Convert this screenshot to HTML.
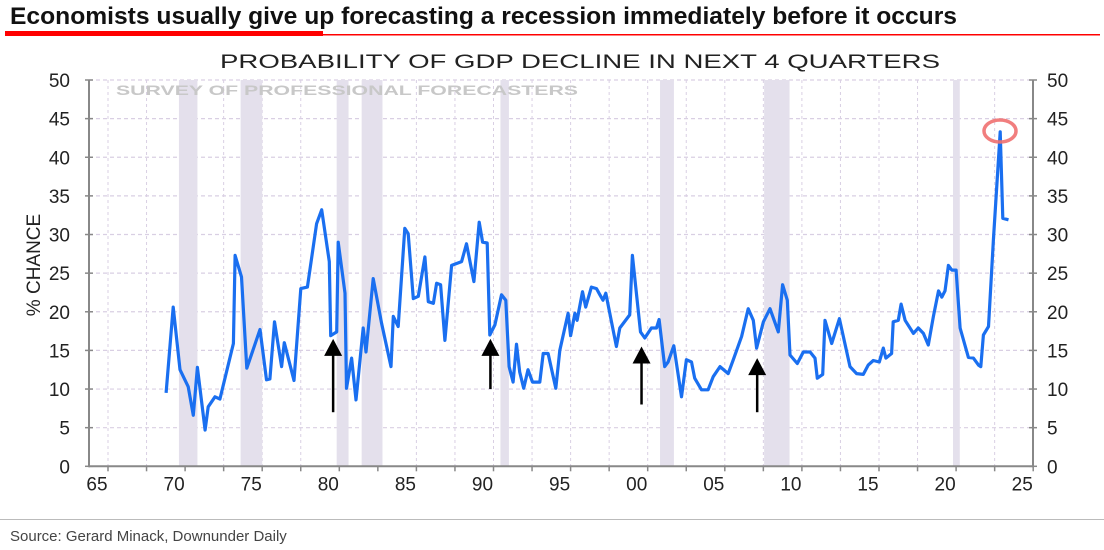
<!DOCTYPE html>
<html><head><meta charset="utf-8"><style>
html,body{margin:0;padding:0;background:#fff;}
svg{display:block;font-family:"Liberation Sans",sans-serif;}
</style></head><body>
<svg id="chart" width="1104" height="550" viewBox="0 0 1104 550">
<text x="10" y="24" font-size="24" font-weight="bold" fill="#111" textLength="947" lengthAdjust="spacingAndGlyphs">Economists usually give up forecasting a recession immediately before it occurs</text>
<rect x="5" y="31" width="318" height="5" fill="#f00"/>
<rect x="323" y="34" width="777" height="1.5" fill="#f00"/>
<text x="580" y="68" font-size="19" fill="#222" text-anchor="middle" textLength="720" lengthAdjust="spacingAndGlyphs">PROBABILITY OF GDP DECLINE IN NEXT 4 QUARTERS</text>
<g id="grid"></g>
<g id="bands"></g>
<text x="116" y="95" font-size="14" font-weight="bold" fill="#c8c8c8" textLength="462" lengthAdjust="spacingAndGlyphs">SURVEY OF PROFESSIONAL FORECASTERS</text>
<g id="axes"></g>
<path id="series" fill="none" stroke="#1a6ff0" stroke-width="3.2" stroke-linejoin="round"/>
<ellipse cx="1000" cy="131" rx="16" ry="11" fill="none" stroke="#f07070" stroke-width="3.5" opacity="0.9"/>
<g id="arrows"></g>
<text transform="translate(40,265) rotate(-90)" font-size="19" fill="#222" text-anchor="middle">% CHANCE</text>
<rect x="0" y="519" width="1104" height="1" fill="#bbb"/>
<text x="10" y="541" font-size="15" fill="#444">Source: Gerard Minack, Downunder Daily</text>
</svg>
<script>
const years=[1968.77,1969.23,1969.67,1970.2,1970.53,1970.8,1971.3,1971.5,1971.94,1972.26,1973.13,1973.24,1973.66,1974,1974.86,1975.28,1975.5,1975.8,1976.26,1976.43,1977.06,1977.5,1977.93,1978.53,1978.86,1979.35,1979.44,1979.83,1979.93,1980.37,1980.47,1980.8,1981.08,1981.55,1981.73,1982.2,1982.74,1983.35,1983.5,1983.82,1984.25,1984.47,1984.8,1985.12,1985.55,1985.77,1986.1,1986.31,1986.57,1986.85,1987.28,1987.93,1988.25,1988.73,1989.07,1989.29,1989.59,1989.76,1990.09,1990.52,1990.8,1991.01,1991.27,1991.49,1991.7,1991.96,1992.24,1992.53,1993,1993.22,1993.54,1994.04,1994.3,1994.84,1995,1995.28,1995.42,1995.77,1995.98,1996.35,1996.68,1996.9,1997.1,1997.28,1997.97,1998.19,1998.83,1999.01,1999.53,1999.81,2000.24,2000.57,2000.74,2001.1,2001.32,2001.69,2002.19,2002.51,2002.84,2003.05,2003.49,2003.92,2004.25,2004.69,2005.22,2005.55,2006.09,2006.52,2006.85,2007.06,2007.5,2007.93,2008.47,2008.75,2009.05,2009.23,2009.7,2010.09,2010.53,2010.85,2011,2011.35,2011.5,2011.93,2012.43,2013.12,2013.55,2013.98,2014.3,2014.63,2015.02,2015.28,2015.45,2015.82,2015.92,2016.25,2016.43,2016.69,2017.23,2017.55,2017.88,2018.2,2018.53,2018.86,2019.07,2019.28,2019.5,2019.72,2020,2020.26,2020.8,2021.12,2021.45,2021.6,2021.77,2022.1,2022.42,2022.86,2023.03,2023.4];
const probs=[9.5,20.6,12.5,10.3,6.6,12.8,4.7,7.7,9,8.7,15.9,27.3,24.5,12.7,17.7,11.2,11.3,18.7,12.9,16,11.1,23,23.2,31.4,33.2,26.5,16.9,17.4,29,22.4,10.1,14,8.6,17.9,14.8,24.3,18.5,12.9,19.4,18.1,30.8,30.1,21.7,22,27.1,21.3,21.1,23.7,23.5,16.3,26,26.5,28.8,23.9,31.6,29,28.9,17,18.3,22.2,21.5,12.9,10.9,15.8,12.2,10.1,12.5,10.9,10.9,14.6,14.6,10.1,15,19.8,16.9,19.8,18.9,22.6,20.6,23.2,23,22.2,21.5,22.4,15.5,17.9,19.6,27.3,17.4,16.6,17.9,17.9,19,12.9,13.5,15.6,9,13.8,13.5,11.4,9.9,9.9,11.6,12.9,12,13.8,16.8,20.4,18.9,15.3,18.7,20.4,17.4,23.5,21.5,14.4,13.3,14.8,14.8,14,11.4,11.9,18.9,15.9,19.1,12.9,12,11.9,13.1,13.7,13.5,15.3,14,14.6,18.7,18.9,21,18.9,17.2,17.9,17.2,15.7,19.4,22.7,21.9,22.7,26,25.4,25.4,17.9,14.1,14,13.1,12.9,17,18.1,29.3,43.3,32.1,31.9];
const recStart=[1969.6,1973.6,1979.83,1981.45,1990.45,2000.8,2007.55,2019.8];
const recEnd=[1970.8,1975.0,1980.6,1982.8,1991.0,2001.7,2009.2,2020.24];
const arrowYears=[1979.6,1989.8,1999.6,2007.1];
const arrowTailVals=[7,10,8,7];
const arrowHeadVals=[16.5,16.5,15.5,14];
const yTicks=[0,5,10,15,20,25,30,35,40,45,50];
const xTicks=[1965,1970,1975,1980,1985,1990,1995,2000,2005,2010,2015,2020,2025];
const xTickLabels=["65","70","75","80","85","90","95","00","05","10","15","20","25"];

const NS="http://www.w3.org/2000/svg";
const X=y=>108+(y-1965)*15.42;
const Y=v=>466.3-v*7.726;
const L=89,R=1033,T=Y(50),B=Y(0);
function mk(tag,attrs,parent){const e=document.createElementNS(NS,tag);for(const k in attrs)e.setAttribute(k,attrs[k]);parent.appendChild(e);return e;}
const grid=document.getElementById('grid'),bands=document.getElementById('bands'),axes=document.getElementById('axes'),arrows=document.getElementById('arrows');
for(let yr=1965;yr<=2025;yr+=2.5){const g=mk('line',{x1:X(yr),x2:X(yr),y1:T,y2:B,stroke:'#d9cfe3','stroke-width':1,'stroke-dasharray':'3,3'},grid);

}
yTicks.forEach(v=>{const g=mk('line',{x1:L,x2:R,y1:Y(v),y2:Y(v),stroke:'#d9cfe3','stroke-width':1.2,'stroke-dasharray':'4,3'},grid);

});
recStart.forEach((s,i)=>{const r=mk('rect',{x:X(s),y:T,width:X(recEnd[i])-X(s),height:B-T,fill:'#e4e0ec'},bands);

});
mk('line',{x1:L,x2:L,y1:T,y2:B+1,stroke:'#888','stroke-width':2},axes);
mk('line',{x1:R,x2:R,y1:T,y2:B+1,stroke:'#888','stroke-width':2},axes);
mk('line',{x1:L,x2:R,y1:B,y2:B,stroke:'#888','stroke-width':2},axes);
yTicks.forEach(v=>{
mk('line',{x1:L-4,x2:L+4,y1:Y(v),y2:Y(v),stroke:'#888','stroke-width':1.5},axes);
mk('line',{x1:R-4,x2:R+4,y1:Y(v),y2:Y(v),stroke:'#888','stroke-width':1.5},axes);
const t=mk('text',{x:70,y:Y(v)+7,'font-size':19,fill:'#222','text-anchor':'end'},axes);t.textContent=v;


const t2=mk('text',{x:1047,y:Y(v)+7,'font-size':19,fill:'#222'},axes);t2.textContent=v;

});
for(let yr=1965;yr<=2025;yr+=2.5)mk('line',{x1:X(yr),x2:X(yr),y1:B,y2:B+5,stroke:'#888','stroke-width':1.5},axes);
xTicks.forEach((yr,i)=>{const t=mk('text',{x:X(yr)-11,y:B+24,'font-size':19,fill:'#222','text-anchor':'middle'},axes);t.textContent=xTickLabels[i];

});
document.getElementById('series').setAttribute('d',years.map((y,i)=>(i?'L':'M')+X(y).toFixed(1)+','+Y(probs[i]).toFixed(1)).join(''));
arrowYears.forEach((yr,i)=>{const x=X(yr),y1=Y(arrowTailVals[i]),y2=Y(arrowHeadVals[i]);
const l=mk('line',{x1:x,x2:x,y1:y1,y2:y2+12,stroke:'#000','stroke-width':2.5},arrows);


const p=mk('polygon',{points:`${x-9},${y2+17} ${x+9},${y2+17} ${x},${y2}`,fill:'#000'},arrows);

});
</script>
</body></html>
